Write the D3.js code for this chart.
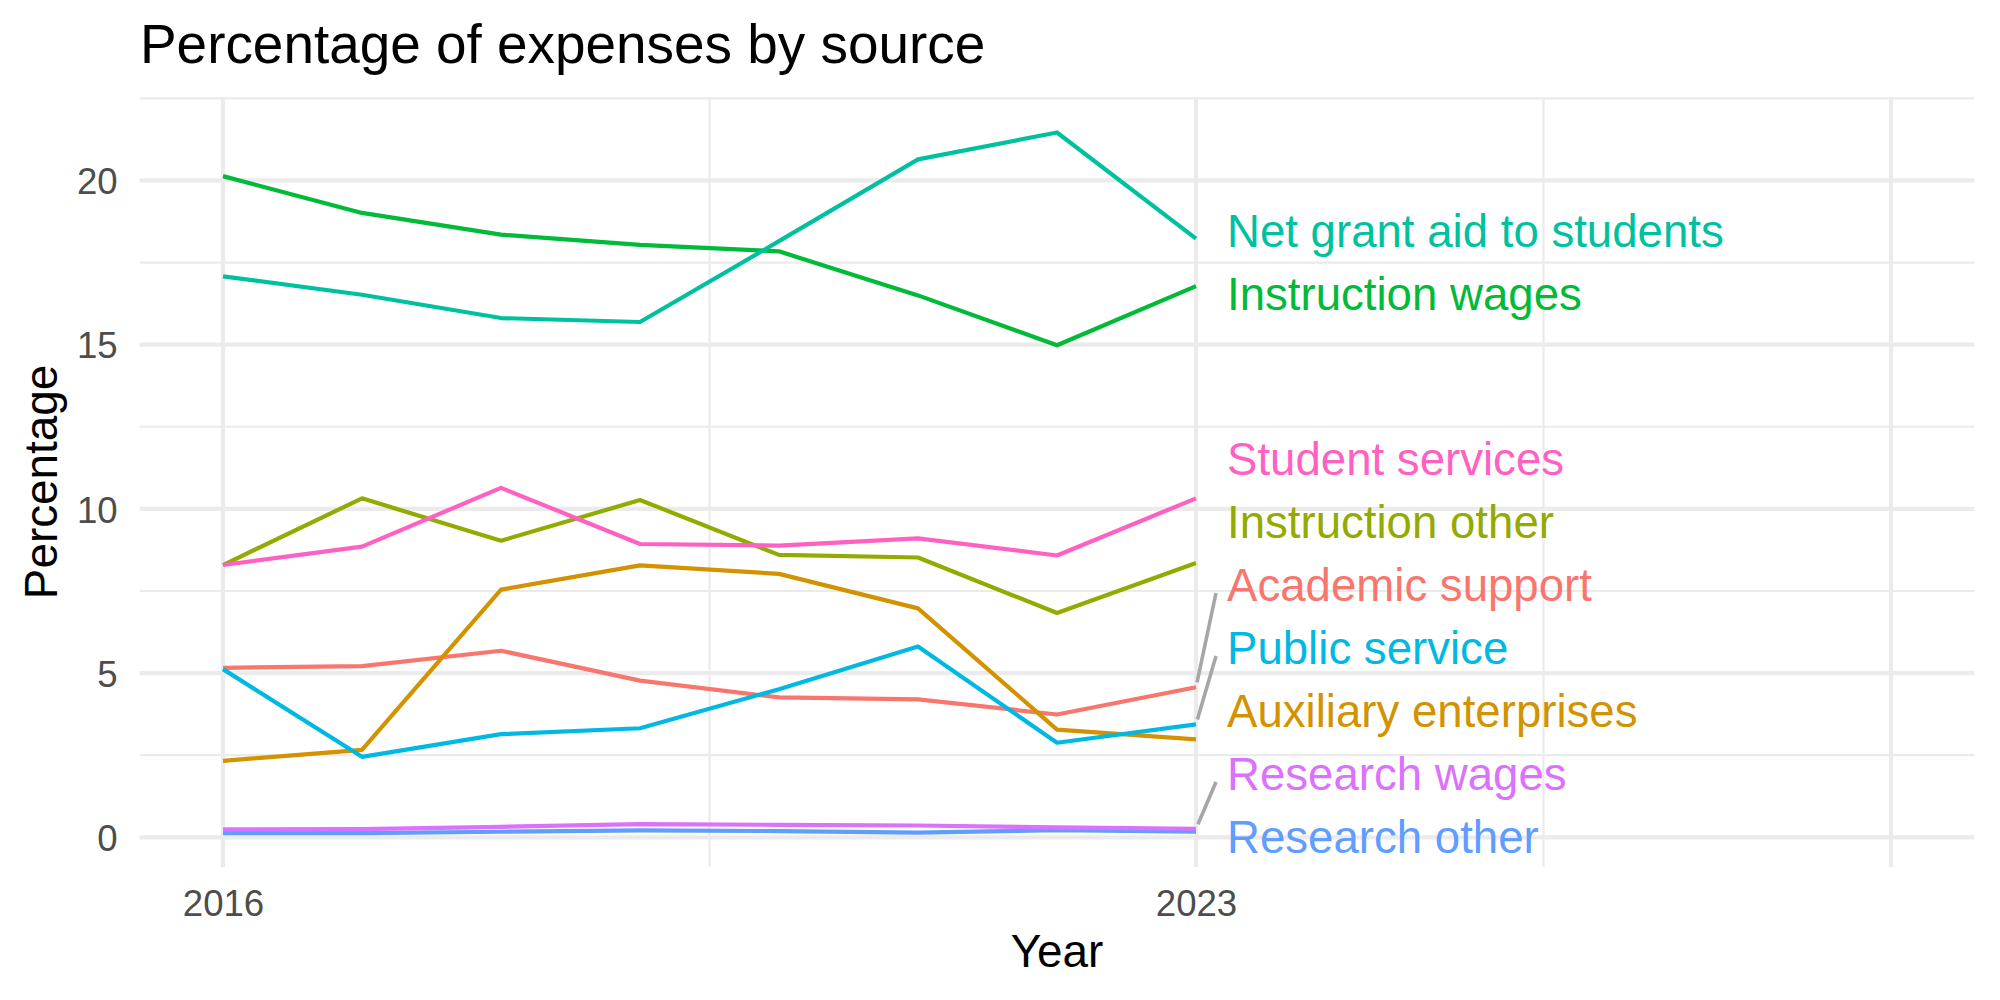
<!DOCTYPE html>
<html>
<head>
<meta charset="utf-8">
<script src="https://cdn.jsdelivr.net/npm/d3@7"></script>
<style>
  body { margin: 0; background: #fff; }
  svg { display: block; font-family: "Liberation Sans", Arial, Helvetica, sans-serif; }
</style>
</head>
<body>
<div id="chart"></div>
<script>
// data
const years = [2016, 2017, 2018, 2019, 2020, 2021, 2022, 2023];

const categories = [
  "Academic support", "Auxiliary enterprises", "Instruction other", "Instruction wages",
  "Net grant aid to students", "Public service", "Research other", "Research wages",
  "Student services"
];

const academicSupport      = [5.16, 5.21, 5.68, 4.77, 4.26, 4.20, 3.74, 4.57];
const auxiliaryEnterprises = [2.33, 2.66, 7.54, 8.28, 8.02, 6.97, 3.28, 2.98];
const instructionOther     = [8.29, 10.32, 9.03, 10.27, 8.60, 8.52, 6.83, 8.35];
const instructionWages     = [20.13, 19.01, 18.35, 18.04, 17.84, 16.50, 14.98, 16.78];
const netGrantAid          = [17.08, 16.52, 15.81, 15.69, 18.15, 20.64, 21.46, 18.23];
const publicService        = [5.12, 2.45, 3.14, 3.32, 4.51, 5.81, 2.88, 3.44];
const researchOther        = [0.13, 0.13, 0.17, 0.21, 0.19, 0.14, 0.22, 0.17];
const researchWages        = [0.24, 0.25, 0.32, 0.40, 0.38, 0.36, 0.30, 0.26];
const studentServices      = [8.29, 8.85, 10.64, 8.93, 8.88, 9.10, 8.58, 10.32];

const seriesValues = [
  academicSupport, auxiliaryEnterprises, instructionOther, instructionWages,
  netGrantAid, publicService, researchOther, researchWages, studentServices
];

const xBreaks = [2016, 2023, 2028];
const xTickLabels = ["2016", "2023", ""];
const yBreaks = [0, 5, 10, 15, 20];

(function () {
  const W = 2000, H = 1000;
  const panel = { left: 139.6, right: 1974.4, top: 97, bottom: 867 };

  // ggplot hue palette, 9 levels
  const colors = ["#F8766D", "#D39200", "#93AA00", "#00BA38", "#00C19F",
                  "#00B9E3", "#619CFF", "#DB72FB", "#FF61C3"];

  const svg = d3.select("#chart").append("svg")
    .attr("width", W)
    .attr("height", H);

  svg.append("rect").attr("width", W).attr("height", H).attr("fill", "#fff");

  const x = d3.scaleLinear().domain([2015.4, 2028.6]).range([panel.left, panel.right]);
  const y = d3.scaleLinear().domain([-0.904, 22.54]).range([panel.bottom, panel.top]);

  // minor breaks the way ggplot does it: midpoints, one step past each end
  function minorBreaks(b, dom) {
    const step = b[1] - b[0];
    const ext = [b[0] - step, ...b, b[b.length - 1] + step];
    const out = [];
    for (let i = 0; i < ext.length - 1; i++) out.push((ext[i] + ext[i + 1]) / 2);
    return out.filter(v => v >= dom[0] && v <= dom[1]);
  }

  const grid = svg.append("g").attr("fill", "none").attr("stroke", "#EBEBEB");

  grid.selectAll(".ymin").data(minorBreaks(yBreaks, y.domain())).join("line")
    .attr("x1", panel.left).attr("x2", panel.right)
    .attr("y1", d => y(d)).attr("y2", d => y(d))
    .attr("stroke-width", 2.2);
  grid.selectAll(".xmin").data(minorBreaks(xBreaks, x.domain())).join("line")
    .attr("x1", d => x(d)).attr("x2", d => x(d))
    .attr("y1", panel.top).attr("y2", panel.bottom)
    .attr("stroke-width", 2.2);
  grid.append("g").selectAll("line").data(yBreaks).join("line")
    .attr("x1", panel.left).attr("x2", panel.right)
    .attr("y1", d => y(d)).attr("y2", d => y(d))
    .attr("stroke-width", 4.2);
  grid.append("g").selectAll("line").data(xBreaks).join("line")
    .attr("x1", d => x(d)).attr("x2", d => x(d))
    .attr("y1", panel.top).attr("y2", panel.bottom)
    .attr("stroke-width", 4.2);

  // axes text (no axis lines in theme_minimal)
  const xAxis = svg.append("g")
    .attr("transform", `translate(0,${panel.bottom})`)
    .call(d3.axisBottom(x).tickValues(xBreaks).tickFormat((d, i) => xTickLabels[i]).tickSize(0));
  xAxis.select(".domain").remove();
  xAxis.selectAll("text")
    .attr("y", 0).attr("dy", 0)
    .attr("transform", "translate(0,49)")
    .style("font-family", "inherit")
    .style("font-size", "36.6px")
    .attr("fill", "#4D4D4D");

  const yAxis = svg.append("g")
    .attr("transform", `translate(${panel.left},0)`)
    .call(d3.axisLeft(y).tickValues(yBreaks).tickSize(0));
  yAxis.select(".domain").remove();
  yAxis.selectAll("text")
    .attr("x", -22).attr("dy", "0.36em")
    .style("font-family", "inherit")
    .style("font-size", "36.6px")
    .attr("fill", "#4D4D4D");

  // titles
  svg.append("text")
    .attr("x", 140).attr("y", 63)
    .style("font-size", "54.9px")
    .attr("fill", "#000")
    .text("Percentage of expenses by source");

  svg.append("text")
    .attr("x", (panel.left + panel.right) / 2).attr("y", 967)
    .attr("text-anchor", "middle")
    .style("font-size", "45.8px")
    .text("Year");

  svg.append("text")
    .attr("transform", `translate(57,${(panel.top + panel.bottom) / 2}) rotate(-90)`)
    .attr("text-anchor", "middle")
    .style("font-size", "45.8px")
    .text("Percentage");

  // lines
  const series = categories.map((name, i) => ({
    name,
    color: colors[i],
    values: years.map((yr, j) => ({ year: yr, value: seriesValues[i][j] }))
  }));

  const line = d3.line().x(d => x(d.year)).y(d => y(d.value));

  svg.append("g").selectAll("path").data(series).join("path")
    .attr("fill", "none")
    .attr("stroke", d => d.color)
    .attr("stroke-width", 4.2)
    .attr("stroke-linejoin", "round")
    .attr("d", d => line(d.values));

  // end labels: simple 1D repel (stack overlapping labels, keep inside panel)
  const gap = 63;
  const minY = panel.top + 30, maxY = panel.bottom - 30;
  const lastYear = years[years.length - 1];
  const labels = series.map(s => {
    const v = s.values[s.values.length - 1].value;
    return { name: s.name, color: s.color, target: y(v) };
  }).sort((a, b) => a.target - b.target);

  let clusters = labels.map(l => ({ items: [l] }));
  function place(c) {
    const n = c.items.length;
    const mean = d3.mean(c.items, d => d.target);
    let start = mean - (n - 1) * gap / 2;
    start = Math.min(start, maxY - (n - 1) * gap);
    start = Math.max(start, minY);
    c.items.forEach((d, i) => { d.pos = start + i * gap; });
  }
  clusters.forEach(place);
  let merged = true;
  while (merged) {
    merged = false;
    for (let i = 0; i < clusters.length - 1; i++) {
      const a = clusters[i], b = clusters[i + 1];
      if (a.items[a.items.length - 1].pos + gap > b.items[0].pos) {
        const c = { items: a.items.concat(b.items) };
        place(c);
        clusters.splice(i, 2, c);
        merged = true;
        break;
      }
    }
  }

  const labelSize = 45.6;
  const textX = x(lastYear) + 31;
  const boxLeft = x(lastYear) + 20;

  // connector segments for labels pushed far from their line end
  const segs = labels.map(d => {
    const x0 = x(lastYear), y0 = d.target;
    const x1 = boxLeft, y1 = d.pos + 8;
    const len = Math.hypot(x1 - x0, y1 - y0);
    return { x0, y0, x1, y1, len };
  }).filter(s => s.len > 45);

  svg.append("g").selectAll("line").data(segs).join("line")
    .attr("x1", s => s.x0 + (s.x1 - s.x0) * 5 / s.len)
    .attr("y1", s => s.y0 + (s.y1 - s.y0) * 5 / s.len)
    .attr("x2", s => s.x1)
    .attr("y2", s => s.y1)
    .attr("stroke", "#A6A6A6")
    .attr("stroke-width", 3.6);

  svg.append("g").selectAll("text").data(labels).join("text")
    .attr("x", textX)
    .attr("y", d => d.pos + 0.36 * labelSize)
    .attr("fill", d => d.color)
    .style("font-size", labelSize + "px")
    .text(d => d.name);
})();
</script>
</body>
</html>
